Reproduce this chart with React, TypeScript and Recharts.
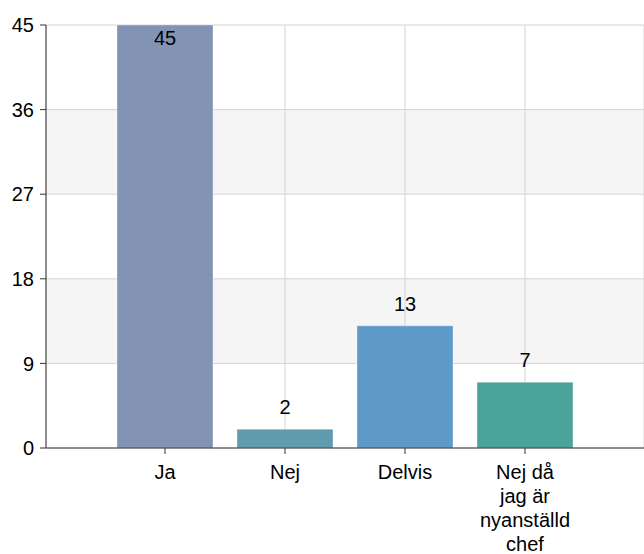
import { BarChart, Bar, XAxis, YAxis, CartesianGrid, Cell } from 'recharts';

const categories = ['Ja', 'Nej', 'Delvis', 'Nej då\njag är\nnyanställd\nchef'];
const counts = [45, 2, 13, 7];
const barColors = ['#8293b3', '#609bb0', '#5e9ac8', '#4ba39a'];
const yTicks = [0, 9, 18, 27, 36, 45];

const data = categories.map((name, i) => ({ name, value: counts[i] }));

const FONT = '"Liberation Sans", Arial, sans-serif';

function CategoryTick({ x, y, payload }: any) {
  const lines = String(payload.value).split('\n');
  return (
    <text x={x} y={y} textAnchor="middle" fontSize={20} fontFamily={FONT} fill="#000">
      {lines.map((line, i) => (
        <tspan key={i} x={x} dy={i === 0 ? 14 : 24}>
          {line}
        </tspan>
      ))}
    </text>
  );
}

function renderValueLabel(props: any) {
  const { x, y, width, value } = props;
  // the tallest bar hits the top of the plot, so its label goes inside
  const ty = y - 22 < 12 ? y + 13 : y - 22;
  return (
    <text
      x={x + width / 2}
      y={ty}
      textAnchor="middle"
      dominantBaseline="central"
      fontSize={20}
      fontFamily={FONT}
      fill="#000"
    >
      {value}
    </text>
  );
}

export default function App() {
  return (
    <div style={{ position: 'absolute', left: 0, top: 0, background: '#fff' }}>
      <BarChart
        width={644}
        height={554}
        data={data}
        margin={{ top: 25, right: 0, bottom: 0, left: 0 }}
      >
        <CartesianGrid
          stroke="#d4d4d4"
          horizontalFill={['#ffffff', '#f5f5f5']}
          fillOpacity={1}
        />
        <XAxis
          dataKey="name"
          height={106}
          padding={{ left: 59, right: 59 }}
          tickSize={6}
          tickMargin={11}
          stroke="#333"
          tick={<CategoryTick />}
          interval={0}
        />
        <YAxis
          width={46}
          domain={[0, 45]}
          ticks={yTicks}
          tickSize={6}
          tickMargin={6}
          stroke="#333"
          tick={{ fontSize: 20, fontFamily: FONT, fill: '#000' }}
        />
        <Bar
          dataKey="value"
          barSize={96}
          isAnimationActive={false}
          label={renderValueLabel}
          stroke="#ffffff"
          strokeOpacity={0.35}
        >
          {data.map((d, i) => (
            <Cell key={d.name} fill={barColors[i]} />
          ))}
        </Bar>
      </BarChart>
    </div>
  );
}
